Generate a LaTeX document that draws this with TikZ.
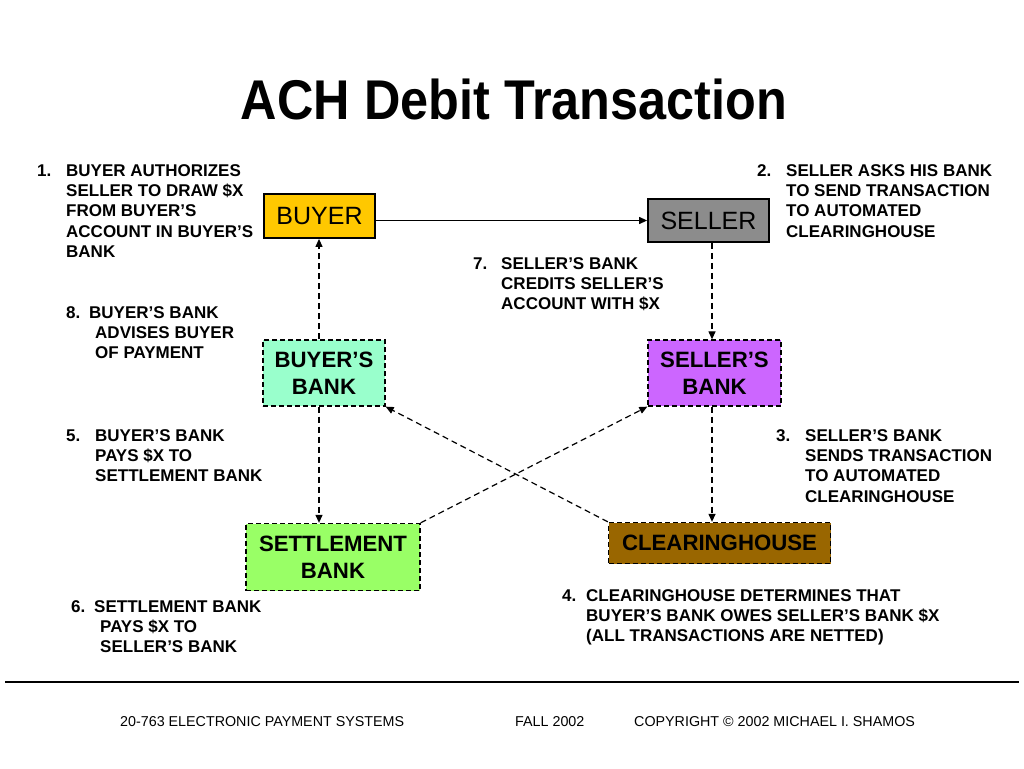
\documentclass[tikz,border=0pt]{standalone}
\usepackage{fontspec}
\setmainfont{Liberation Sans}
\newfontfamily\titlefont[FakeStretch=0.9]{Liberation Sans}
\usetikzlibrary{arrows.meta}
\definecolor{cbuyer}{HTML}{FFC800}
\definecolor{cseller}{HTML}{8C8C8C}
\definecolor{cbbank}{HTML}{99FFCC}
\definecolor{csbank}{HTML}{CC66FF}
\definecolor{csettle}{HTML}{99FF66}
\definecolor{cch}{HTML}{996600}
\newcommand{\numbox}[2]{\makebox[#1][l]{#2}}
\tikzset{
  party/.style={draw=black, line width=1.8pt, inner sep=0pt, align=center,
    font=\fontsize{25}{30}\selectfont},
  bankbox/.style={draw=black, line width=1.3pt, dash pattern=on 5pt off 3pt,
    inner sep=0pt, align=center, font=\bfseries\fontsize{22.2}{27}\selectfont},
  flow/.style={draw=black, line width=1.2pt, -{Triangle[length=8pt,width=7pt]}},
  dflow/.style={flow, dash pattern=on 6pt off 4pt},
  note/.style={anchor=base west, inner sep=0pt, font=\bfseries\fontsize{17}{20.4}\selectfont},
  foot/.style={anchor=base west, inner sep=0pt, font=\fontsize{14.3}{16}\selectfont},
}
\begin{document}
\begin{tikzpicture}[x=1pt,y=-1pt]
\useasboundingbox[fill=white] (0,0) rectangle (1024,768);

\node[anchor=base, inner sep=0pt, font=\titlefont\bfseries\fontsize{56}{62}\selectfont] (title) at (514,119) {ACH Debit Transaction};

% nodes
\node[party, fill=cbuyer, minimum width=111pt, minimum height=44pt] (buyer) at (319.5,216) {BUYER};
\node[party, fill=cseller, minimum width=121pt, minimum height=43pt] (seller) at (708.5,220.5) {SELLER};
\node[bankbox, fill=cbbank, minimum width=122pt, minimum height=66pt] (bbank) at (324,373) {BUYER’S\\BANK};
\node[bankbox, fill=csbank, minimum width=133pt, minimum height=66pt] (sbank) at (714.5,373) {SELLER’S\\BANK};
\node[bankbox, fill=csettle, minimum width=174pt, minimum height=67pt] (settle) at (333,557) {SETTLEMENT\\BANK};
\node[bankbox, fill=cch, minimum width=222pt, minimum height=41pt] (ch) at (719.5,543) {CLEARINGHOUSE};

\coordinate (lx) at (319,0);
\coordinate (rx) at (712,0);

% connectors
\draw[flow] (buyer.east |- seller.west) -- (seller.west);
\draw[dflow] (bbank.north -| lx) -- (buyer.south -| lx);
\draw[dflow] (seller.south -| rx) -- (sbank.north -| rx);
\draw[dflow] (bbank.south -| lx) -- (settle.north -| lx);
\draw[dflow] (sbank.south -| rx) -- (ch.north -| rx);
\draw[dflow] (ch.north west) -- (bbank.south east);
\draw[dflow] (settle.north east) -- (sbank.south west);

% notes
\node[note] (n1) at (37,176) {\begin{tabular}[t]{@{}l@{}}
\numbox{29pt}{1.}BUYER AUTHORIZES\\
\hspace*{29pt}SELLER TO DRAW \$X\\
\hspace*{29pt}FROM BUYER’S\\
\hspace*{29pt}ACCOUNT IN BUYER’S\\
\hspace*{29pt}BANK\end{tabular}};

\node[note] (n2) at (757,176) {\begin{tabular}[t]{@{}l@{}}
\numbox{29pt}{2.}SELLER ASKS HIS BANK\\
\hspace*{29pt}TO SEND TRANSACTION\\
\hspace*{29pt}TO AUTOMATED\\
\hspace*{29pt}CLEARINGHOUSE\end{tabular}};

\node[note] (n7) at (473,269) {\begin{tabular}[t]{@{}l@{}}
\numbox{28pt}{7.}SELLER’S BANK\\
\hspace*{28pt}CREDITS SELLER’S\\
\hspace*{28pt}ACCOUNT WITH \$X\end{tabular}};

\node[note] (n8) at (66,318) {\begin{tabular}[t]{@{}l@{}}
\numbox{23pt}{8.}BUYER’S BANK\\
\hspace*{29pt}ADVISES BUYER\\
\hspace*{29pt}OF PAYMENT\end{tabular}};

\node[note] (n5) at (66,441) {\begin{tabular}[t]{@{}l@{}}
\numbox{29pt}{5.}BUYER’S BANK\\
\hspace*{29pt}PAYS \$X TO\\
\hspace*{29pt}SETTLEMENT BANK\end{tabular}};

\node[note] (n3) at (776,441) {\begin{tabular}[t]{@{}l@{}}
\numbox{29pt}{3.}SELLER’S BANK\\
\hspace*{29pt}SENDS TRANSACTION\\
\hspace*{29pt}TO AUTOMATED\\
\hspace*{29pt}CLEARINGHOUSE\end{tabular}};

\node[note] (n6) at (71,612) {\begin{tabular}[t]{@{}l@{}}
\numbox{23pt}{6.}SETTLEMENT BANK\\
\hspace*{29pt}PAYS \$X TO\\
\hspace*{29pt}SELLER’S BANK\end{tabular}};

\node[note] (n4) at (562,601) {\begin{tabular}[t]{@{}l@{}}
\numbox{24pt}{4.}CLEARINGHOUSE DETERMINES THAT\\
\hspace*{24pt}BUYER’S BANK OWES SELLER’S BANK \$X\\
\hspace*{24pt}(ALL TRANSACTIONS ARE NETTED)\end{tabular}};

% footer
\coordinate (fl) at (5,682);
\coordinate (fr) at (1019,682);
\draw[line width=1.6pt] (fl) -- (fr);
\node[foot] (f1) at (120,726) {20-763 ELECTRONIC PAYMENT SYSTEMS};
\node[foot] (f2) at (515,726) {FALL 2002};
\node[foot] (f3) at (634,726) {COPYRIGHT © 2002 MICHAEL I. SHAMOS};
\end{tikzpicture}
\end{document}
